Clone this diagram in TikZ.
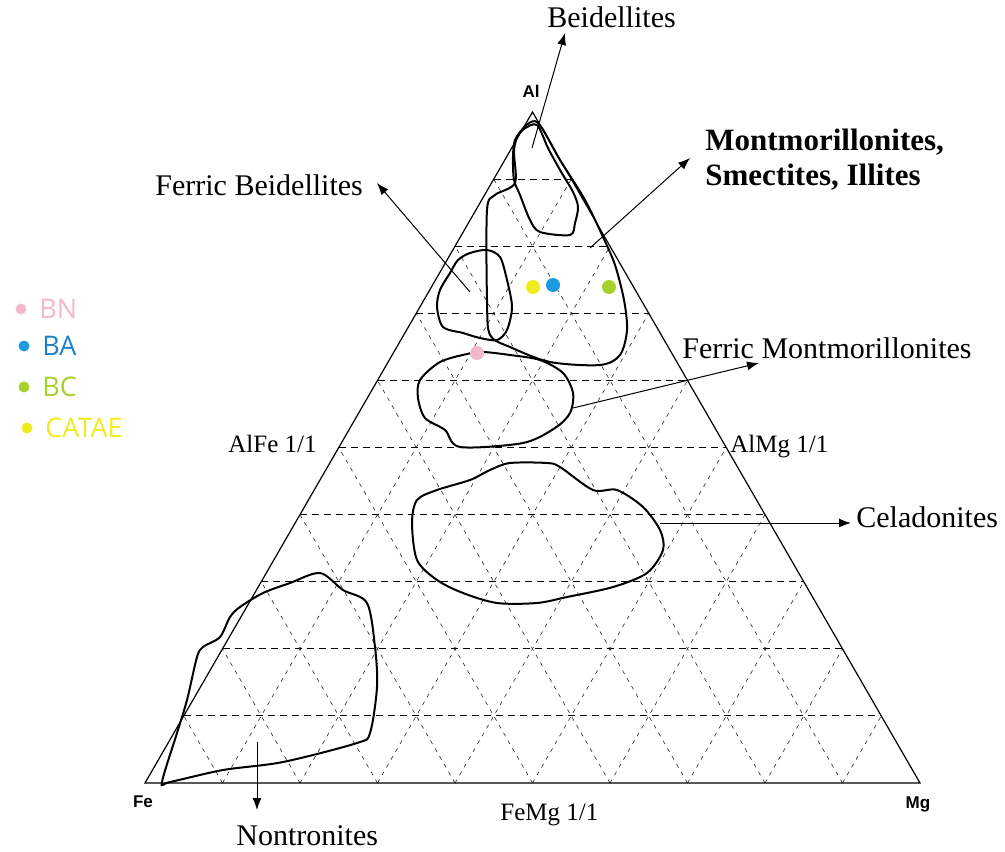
\documentclass[tikz,border=0pt]{standalone}
\usepackage{fontspec}
\setmainfont{Liberation Serif}
\setsansfont{Liberation Sans}
\newfontfamily\legendfont{Open Sans}
\usetikzlibrary{calc,arrows.meta,positioning}

\definecolor{bnpink}{HTML}{F2B8CB}
\definecolor{badot}{HTML}{1E9BE0}
\definecolor{batext}{HTML}{1C80CF}
\definecolor{bcgreen}{HTML}{A8D02C}
\definecolor{catyellow}{HTML}{EEEC1E}

\begin{document}
\begin{tikzpicture}[x=0.5pt, y=-0.5pt, >={Latex[length=6pt,width=4.5pt]},
    region/.style={line width=1pt},
    trigrid/.style={black!85, dash pattern=on 2pt off 2.5pt, line width=0.3pt},
    hgrid/.style={dash pattern=on 3.5pt off 2.5pt, line width=0.5pt},
    mineral/.style={font=\fontsize{15}{17.5}\selectfont, inner sep=0pt},
    ratiolbl/.style={font=\fontsize{12.5}{14}\selectfont, inner sep=0pt},
    apex/.style={font=\sffamily\bfseries\fontsize{8.5}{10}\selectfont, inner sep=0pt},
    datapt/.style={circle, inner sep=0pt, minimum size=7pt},
    legdot/.style={circle, inner sep=0pt, minimum size=5.5pt},
    legtext/.style={font=\legendfont\fontsize{13.5}{15}\selectfont, inner sep=0pt}]
    \useasboundingbox (0,0) rectangle (1005,851);

    % ternary frame
    \coordinate (Fe) at (145,783);
    \coordinate (Mg) at (920,783);
    \coordinate (Al) at (532.5,112);
    \foreach \k in {1,...,9}
    {
       \draw [hgrid]($(Fe)!\k/10!(Al)$)--($(Mg)!\k/10!(Al)$);
       \draw [trigrid]($(Fe)!\k/10!(Mg)$)--($(Fe)!\k/10!(Al)$);
       \draw [trigrid]($(Fe)!\k/10!(Mg)$)--($(Mg)!{1-\k/10}!(Al)$);
    }
    \draw [line width=0.6pt](Fe)--(Mg)--(Al)--cycle;

    \node [apex] (lAl) at (531,91){Al};
    \node [apex] (lFe) at (143,802){Fe};
    \node [apex] (lMg) at (918,804){Mg};
    \node [ratiolbl, anchor=base west] (alfe) at (228,452){AlFe 1/1};
    \node [ratiolbl, anchor=base west] (almg) at (730,452){AlMg 1/1};
    \node [ratiolbl, anchor=base west] (femg) at (500,820){FeMg 1/1};

    % fields
    \draw [region] plot [smooth cycle, tension=.5] coordinates {(537,125) (548,148) (560,170) (573,192) (578,207) (575,223) (570,235) (540,232) (530,220) (520,195) (514,180) (513,157) (515,140) (524,129)};
    \draw [region] plot [smooth cycle, tension=.5] coordinates {(537,122) (560,160) (585,200) (603,237) (615,265) (624,300) (627,330) (620,355) (600,365) (550,362) (510,347) (490,335) (487,300) (487,210) (495,195) (515,183) (514,150) (520,132)};
    \draw [region] plot [smooth cycle, tension=.5] coordinates {(470,253) (487,250) (500,257) (507,280) (512,307) (507,330) (497,340) (480,338) (463,333) (443,327) (437,307) (440,290) (450,273) (458,260)};
    \draw [region] plot [smooth cycle, tension=.5] coordinates {(420,380) (440,362) (467,354) (483,352) (510,355) (540,360) (563,373) (573,393) (570,413) (555,428) (523,443) (460,447) (445,430) (425,418) (418,398)};
    \draw [region] plot [smooth cycle, tension=.5] coordinates {(510,463) (547,463) (560,467) (593,490) (617,490) (643,507) (660,530) (663,550) (647,573) (613,587) (567,597) (537,603) (497,603) (463,593) (437,580) (417,560) (412,523) (417,500) (437,490) (470,480) (490,470)};
    \draw [region] plot [smooth cycle, tension=.5] coordinates {(320,573) (343,590) (367,603) (375,647) (377,687) (370,733) (357,743) (283,762) (223,770) (170,782) (162,782) (177,733) (187,700) (197,657) (203,647) (220,637) (230,617) (240,607) (263,593) (290,583)};

    % names of the fields
    \node [mineral, anchor=base west] (beid) at (547,27){Beidellites};
    \node [mineral, font=\bfseries\fontsize{15.5}{17.5}\selectfont, anchor=west, align=left] (mont) at (705,160){Montmorillonites,\\Smectites, Illites};
    \node [mineral, anchor=base west] (fbeid) at (155,195){Ferric Beidellites};
    \node [mineral, anchor=base west] (fmont) at (682,358){Ferric Montmorillonites};
    \node [mineral, anchor=base west] (cela) at (856,527){Celadonites};
    \node [mineral, anchor=base west] (nont) at (236,845){Nontronites};

    \coordinate (beidIn) at (532,148);   \coordinate (beidTip) at (565,33);
    \coordinate (montIn) at (590,248);   \coordinate (montTip) at (690,158);
    \coordinate (fbeidIn) at (470,292);  \coordinate (fbeidTip) at (377,183);
    \coordinate (fmontIn) at (573,408);  \coordinate (fmontTip) at (759,363);
    \coordinate (celaIn) at (660,523);   \coordinate (celaTip) at (851,523);
    \coordinate (nontIn) at (257,742);   \coordinate (nontTip) at (257,810);
    \foreach \f in {beid,mont,fbeid,fmont,cela,nont}
    {
       \draw [->, line width=0.5pt](\f In)--(\f Tip);
    }

    % samples
    \node [datapt, fill=bnpink] (pBN) at (477,353){};
    \node [datapt, fill=badot] (pBA) at (553,285){};
    \node [datapt, fill=bcgreen] (pBC) at (609,287){};
    \node [datapt, fill=catyellow] (pCATAE) at (533,287){};

    % legend
    \foreach \s/\dc/\tc/\xx/\yy in {BN/bnpink/bnpink/21/309, BA/badot/batext/24/346, BC/bcgreen/bcgreen/24/387, CATAE/catyellow/catyellow/27/428}
    {
       \node [legdot, fill=\dc] (dot\s) at (\xx,\yy){};
       \node [legtext, text=\tc, right=6pt of dot\s] (leg\s){\s};
    }
\end{tikzpicture}
\end{document}
